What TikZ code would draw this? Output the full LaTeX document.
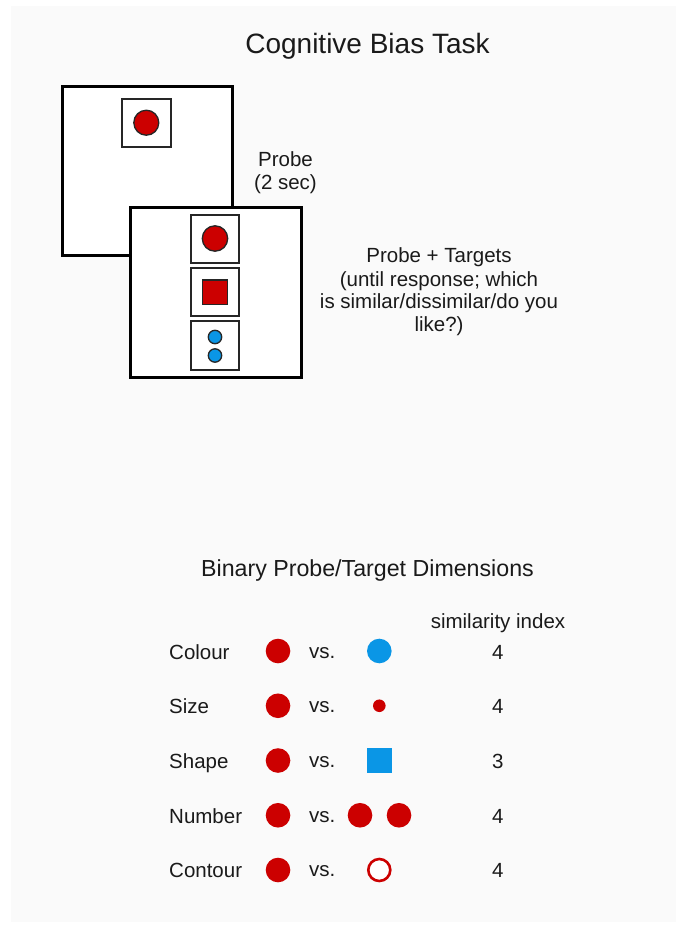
\documentclass[tikz,border=0pt]{standalone}
\usepackage{fontspec}
\setmainfont{Liberation Sans}
\definecolor{stimred}{HTML}{CC0000}
\definecolor{stimblue}{HTML}{0A96E6}
\definecolor{ink}{HTML}{1A1A1A}
\definecolor{paper}{HTML}{FAFAFA}
\begin{document}
\begin{tikzpicture}[x=1pt,y=-1pt,
  screen/.style={draw=black, fill=white, line width=3pt},
  cell/.style={draw=black!85, fill=white, line width=2pt},
  reddot/.style={fill=stimred, draw=black!85, line width=1.3pt},
  bluedot/.style={fill=stimblue, draw=black!85, line width=1.3pt},
  txt/.style={font=\fontsize{20.5}{23}\selectfont, text=ink, inner sep=0pt, anchor=base},
  txtw/.style={txt, anchor=base west},
]
% page
\useasboundingbox[fill=white] (0,0) rectangle (683,932);
\fill[paper] (11,6) rectangle (676,922);

% title
\node[txt, font=\fontsize{28}{32}\selectfont] (title) at (367.5,53.3) {Cognitive Bias Task};

% probe screen
\draw[screen] (62,86) rectangle (232,255);
\draw[cell] (122,98.5) rectangle (170.5,147);
\draw[reddot] (146.3,122.7) circle (12.5);

% probe + targets screen
\draw[screen] (130,207) rectangle (301,377);
\draw[cell] (191,214.5) rectangle (239,262.5);
\draw[cell] (191,268) rectangle (239,316);
\draw[cell] (191,321) rectangle (239,370);
\draw[reddot] (215,238.5) circle (12.7);
\draw[reddot] (202.7,280) rectangle (227.3,304.3);
\draw[bluedot] (215,337) circle (6.7);
\draw[bluedot] (215,355.5) circle (6.7);

% screen captions
\node[txt] (probe1) at (285.5,166.7) {Probe};
\node[txt] (probe2) at (285.5,189.5) {(2 sec)};
\node[txt] (targ1) at (439,262.7) {Probe + Targets};
\node[txt] (targ2) at (439,286) {(until response; which};
\node[txt] (targ3) at (439,308.9) {is similar/dissimilar/do you};
\node[txt] (targ4) at (439,331.7) {like?)};

% dimensions table
\node[txt, font=\fontsize{23.2}{27}\selectfont] (dimtitle) at (367.5,576.7) {Binary Probe/Target Dimensions};
\node[txt] (simhead) at (498,628.3) {similarity index};

\foreach \lab/\val [count=\i from 0] in {Colour/4, Size/4, Shape/3, Number/4, Contour/4} {
  \pgfmathsetmacro{\yb}{659+54.7*\i}
  \pgfmathsetmacro{\yc}{651+54.75*\i}
  \node[txtw] (lab\i) at (169,\yb) {\lab};
  \node[txtw] (vs\i) at (309,\yb-1) {vs.};
  \node[txt] (sim\i) at (497.7,\yb) {\val};
  \fill[stimred] (278,\yc) circle (12.3);
}
% contrasting stimuli
\fill[stimblue] (379.3,651) circle (12.3);
\fill[stimred] (379.3,705.75) circle (6.3);
\fill[stimblue] (367.2,748.3) rectangle (391.6,772.7);
\fill[stimred] (360,815.25) circle (12.3);
\fill[stimred] (399,815.25) circle (12.3);
\draw[stimred, fill=white, line width=2.6pt] (379.3,870) circle (11);
\end{tikzpicture}
\end{document}
